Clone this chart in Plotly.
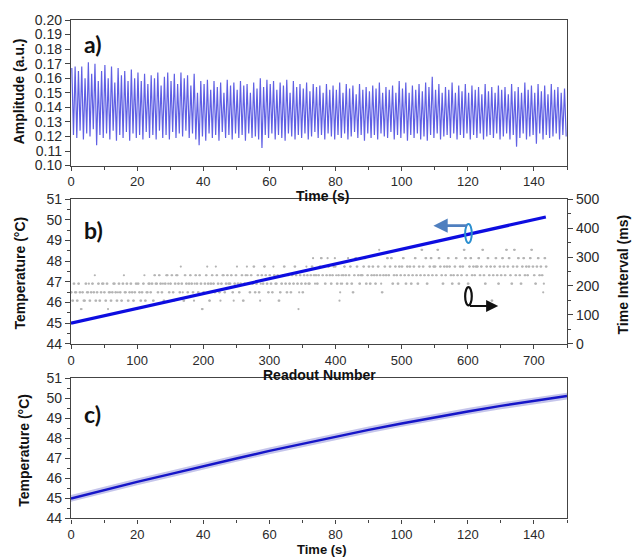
import plotly.graph_objects as go

# ---------------- Panel a: amplitude vs time ----------------
amp_peaks = [
    0.167,0.168,0.165,0.168,0.160,0.171,0.163,0.170,0.158,0.165,
    0.169,0.160,0.168,0.157,0.167,0.162,0.165,0.158,0.166,0.160,
    0.164,0.158,0.163,0.156,0.162,0.160,0.164,0.155,0.161,0.164,
    0.158,0.163,0.156,0.164,0.160,0.162,0.155,0.163,0.150,0.158,
    0.156,0.159,0.152,0.158,0.154,0.157,0.150,0.159,0.155,0.157,
    0.152,0.158,0.155,0.156,0.150,0.157,0.153,0.160,0.154,0.159,
    0.156,0.158,0.152,0.157,0.155,0.159,0.150,0.158,0.154,0.156,
    0.153,0.157,0.151,0.156,0.154,0.155,0.150,0.156,0.152,0.155,
    0.152,0.157,0.150,0.156,0.153,0.155,0.149,0.156,0.152,0.154,
    0.151,0.155,0.153,0.157,0.150,0.154,0.152,0.155,0.150,0.158,
    0.153,0.157,0.150,0.155,0.152,0.156,0.151,0.157,0.154,0.161,
    0.152,0.156,0.150,0.154,0.152,0.157,0.150,0.155,0.151,0.156,
    0.150,0.155,0.152,0.154,0.149,0.156,0.151,0.154,0.150,0.155,
    0.152,0.154,0.149,0.156,0.151,0.154,0.150,0.157,0.152,0.155,
    0.150,0.156,0.151,0.155,0.149,0.156,0.152,0.154,0.150,0.153,
]
amp_troughs = [
    0.121,0.119,0.124,0.118,0.122,0.120,0.125,0.114,0.121,0.119,
    0.122,0.118,0.124,0.117,0.121,0.119,0.123,0.117,0.122,0.119,
    0.121,0.118,0.123,0.119,0.121,0.118,0.124,0.119,0.121,0.118,
    0.123,0.119,0.122,0.120,0.124,0.119,0.122,0.118,0.114,0.120,
    0.117,0.122,0.119,0.121,0.117,0.123,0.119,0.121,0.118,0.122,
    0.119,0.121,0.117,0.122,0.119,0.120,0.118,0.112,0.121,0.119,
    0.122,0.118,0.121,0.119,0.117,0.122,0.120,0.118,0.121,0.119,
    0.122,0.118,0.120,0.123,0.119,0.121,0.118,0.122,0.120,0.118,
    0.121,0.119,0.122,0.118,0.120,0.123,0.119,0.121,0.117,0.122,
    0.119,0.121,0.118,0.122,0.120,0.119,0.123,0.118,0.121,0.119,
    0.122,0.117,0.121,0.119,0.122,0.118,0.120,0.117,0.121,0.119,
    0.122,0.118,0.120,0.121,0.119,0.122,0.118,0.121,0.119,0.122,
    0.118,0.121,0.119,0.122,0.118,0.120,0.121,0.119,0.122,0.118,
    0.120,0.122,0.118,0.121,0.113,0.119,0.122,0.118,0.120,0.121,
    0.115,0.122,0.118,0.121,0.119,0.120,0.122,0.118,0.121,0.120,
]

# ---------------- Panel b: temperature & time interval vs readout ----------------
b_readout = [0, 100, 200, 300, 400, 500, 600, 718]
b_temp = [45.00, 45.72, 46.43, 47.15, 47.86, 48.58, 49.30, 50.14]

interval_levels = [120, 149, 178, 208, 237, 267, 296, 325]   # ms
interval_codes = [
    "2211332221" "1332200221" "1133222311" "2233224112" "2331122333" "2211330222",
    "1122333221" "1233221133" "4222331122" "3322112233" "0332211223" "3411222333",
    "2233114433" "3224433223" "1133444322" "3344221334" "4433225332" "1144332233",
    "4433221344" "3322443300" "2233445331" "1334433225" "4433221334" "4422334433",
    "3344221334" "4533223344" "1133445433" "2244335522" "3344221344" "3355443322",
    "4433225443" "3344112233" "4455332244" "3322443355" "4433024433" "2244335443",
    "3344556443" "4433445566" "4455334465" "5443344556" "5433441234" "3445544336",
    "4455332244" "6655443344" "4455663344" "5533445544" "3344557443" "2244554466",
    "4455663344" "5544335544" "5566443355" "4455334455" "6644335544" "7755446633",
    "4455664455" "5544776655" "4433554455" "6655443344" "5566443355" "4455776644",
    "3355664455" "4455556644" "5577443355" "6644551144" "5566443355" "4466554477",
    "5566443355" "7744556644" "3355664455" "4455667755" "4433556644" "5544236655",
]

# ---------------- Panel c: temperature vs time ----------------
c_time = [0, 10, 20, 30, 40, 50, 60, 70, 80, 90, 100, 110, 120, 130, 140, 150]
c_temp = [45.00, 45.42, 45.83, 46.22, 46.62, 47.00, 47.38, 47.74, 48.10,
          48.43, 48.75, 49.06, 49.35, 49.63, 49.89, 50.12]
c_err = 0.17

# ---------------- build traces ----------------
t_a, y_a = [], []
for i, (p, q) in enumerate(zip(amp_peaks, amp_troughs)):
    t_a += [i + 0.25, i + 0.75]
    y_a += [p, q]

codes = "".join(interval_codes)
rd_x = list(range(len(codes)))
rd_y = [interval_levels[int(c)] for c in codes]

fig = go.Figure()
fig.add_trace(go.Scatter(x=t_a, y=y_a, mode="lines", xaxis="x", yaxis="y",
                         line=dict(color="#6060e4", width=1.2), showlegend=False))

fig.add_trace(go.Scatter(x=rd_x, y=rd_y, mode="markers", xaxis="x2", yaxis="y2",
                         marker=dict(color="#b4b4b4", size=2.2), showlegend=False))
fig.add_trace(go.Scatter(x=b_readout, y=b_temp, mode="lines", xaxis="x2", yaxis="y4",
                         line=dict(color="#0d0de0", width=3.2), showlegend=False))

fig.add_trace(go.Scatter(x=c_time, y=[v + c_err for v in c_temp], mode="lines",
                         xaxis="x3", yaxis="y3", line=dict(width=0, color="rgba(0,0,0,0)"),
                         showlegend=False, hoverinfo="skip"))
fig.add_trace(go.Scatter(x=c_time, y=[v - c_err for v in c_temp], mode="lines",
                         xaxis="x3", yaxis="y3", line=dict(width=0, color="rgba(0,0,0,0)"),
                         fill="tonexty", fillcolor="rgba(140,140,215,0.5)",
                         showlegend=False, hoverinfo="skip"))
fig.add_trace(go.Scatter(x=c_time, y=c_temp, mode="lines", xaxis="x3", yaxis="y3",
                         line=dict(color="#1515c8", width=2.4), showlegend=False))

FONT = "Arial, Liberation Sans, sans-serif"
tickfont = dict(family=FONT, size=14, color="#2a2a2a")
xtickfont = dict(family=FONT, size=13, color="#2a2a2a")
axcol = "#444444"

def xax(anchor, rng, dtick):
    return dict(domain=[0, 1], anchor=anchor, range=rng, dtick=dtick, tick0=0,
                showgrid=False, zeroline=False, showline=True, linecolor=axcol,
                linewidth=1.3, mirror=True, ticks="outside", ticklen=4,
                tickcolor=axcol, tickfont=xtickfont,
                minor=dict(dtick=dtick / 2, ticks="outside", ticklen=3, tickcolor=axcol))

def yax(domain, anchor, rng, dtick, side="left", overlaying=None, fmt=None, minor=True,
        mirror=True):
    d = dict(domain=domain, anchor=anchor, range=rng, dtick=dtick, side=side,
             showgrid=False, zeroline=False, showline=True, linecolor=axcol,
             linewidth=1.3, ticks="outside", ticklen=5, tickcolor=axcol,
             tickfont=tickfont, mirror=mirror)
    if minor:
        d["minor"] = dict(dtick=dtick / 2, ticks="outside", ticklen=3, tickcolor=axcol)
    if overlaying:
        d["overlaying"] = overlaying
    if fmt:
        d["tickformat"] = fmt
    return d

dom_a = [0.7106, 1.0]
dom_b = [0.3563, 0.6437]
dom_c = [0.009, 0.2874]

fig.update_layout(
    width=638, height=557,
    margin=dict(l=71, r=71, t=15, b=34),
    paper_bgcolor="white", plot_bgcolor="white",
    xaxis=xax("y", [0, 150], 20),
    yaxis=yax(dom_a, "x", [0.10, 0.20], 0.01, fmt=".2f", minor=False),
    xaxis2=xax("y2", [0, 750], 100),
    yaxis2=yax(dom_b, "x2", [0, 500], 100, side="right", mirror=False),
    yaxis4=yax(dom_b, "x2", [44, 51], 1, side="left", overlaying="y2", mirror=False),
    xaxis3=xax("y3", [0, 150], 20),
    yaxis3=yax(dom_c, "x3", [44, 51], 1),
)

def px_x(px):
    return (px - 71) / 496

def px_y(py):
    return (557 - py - 34) / 508

ann = []
tf = dict(family=FONT, size=14, color="#111111")
tf_small = dict(family=FONT, size=13, color="#111111")

def lab(text, cx, cy, angle=0, font=tf):
    return dict(text=text, x=px_x(cx), y=px_y(cy), xref="paper", yref="paper",
                xanchor="center", yanchor="middle", showarrow=False,
                textangle=angle, font=font)

ann.append(lab("<b>Time (s)</b>", 322, 193))
ann.append(lab("<b>Readout Number</b>", 319, 374))
ann.append(lab("<b>Time (s)</b>", 322, 550, 0, tf_small))
ann.append(lab("<b>Amplitude (a.u.)</b>", 19, 87, -90))
ann.append(lab("<b>Temperature (°C)</b>", 20, 271, -90))
ann.append(lab("<b>Temperature (°C)</b>", 24, 450, -90))
ann.append(lab("<b>Time Interval (ms)</b>", 623, 272, -90))
lf = dict(family="Lato, Open Sans, sans-serif", size=23, color="#111111")
for txt, cx, cy in [("a)", 93, 39), ("b)", 93, 227), ("c)", 92, 413)]:
    ann.append(lab("<b>%s</b>" % txt, cx, cy, 0, lf))

# arrows in panel b (data coords of x2 / y4)
ann.append(dict(x=548, y=49.72, ax=601, ay=49.72, xref="x2", yref="y4", axref="x2", ayref="y4",
                text="", showarrow=True, arrowhead=2, arrowsize=1.1, arrowwidth=2.6,
                arrowcolor="#4f7fbf"))
ann.append(dict(x=646, y=45.83, ax=601, ay=45.83, xref="x2", yref="y4", axref="x2", ayref="y4",
                text="", showarrow=True, arrowhead=2, arrowsize=1.1, arrowwidth=2.2,
                arrowcolor="#111111"))
fig.update_layout(annotations=ann)

shapes = [
    dict(type="circle", xref="x2", yref="y4", x0=596, x1=606, y0=48.88, y1=49.80,
         line=dict(color="#2a8fd0", width=2)),
    dict(type="circle", xref="x2", yref="y4", x0=596, x1=606, y0=45.86, y1=46.74,
         line=dict(color="#111111", width=2.2)),
]
fig.update_layout(shapes=shapes)

fig.write_html("out.html", config={"displayModeBar": False},
               post_script="document.body.style.margin='0px';document.body.style.overflow='hidden';")
